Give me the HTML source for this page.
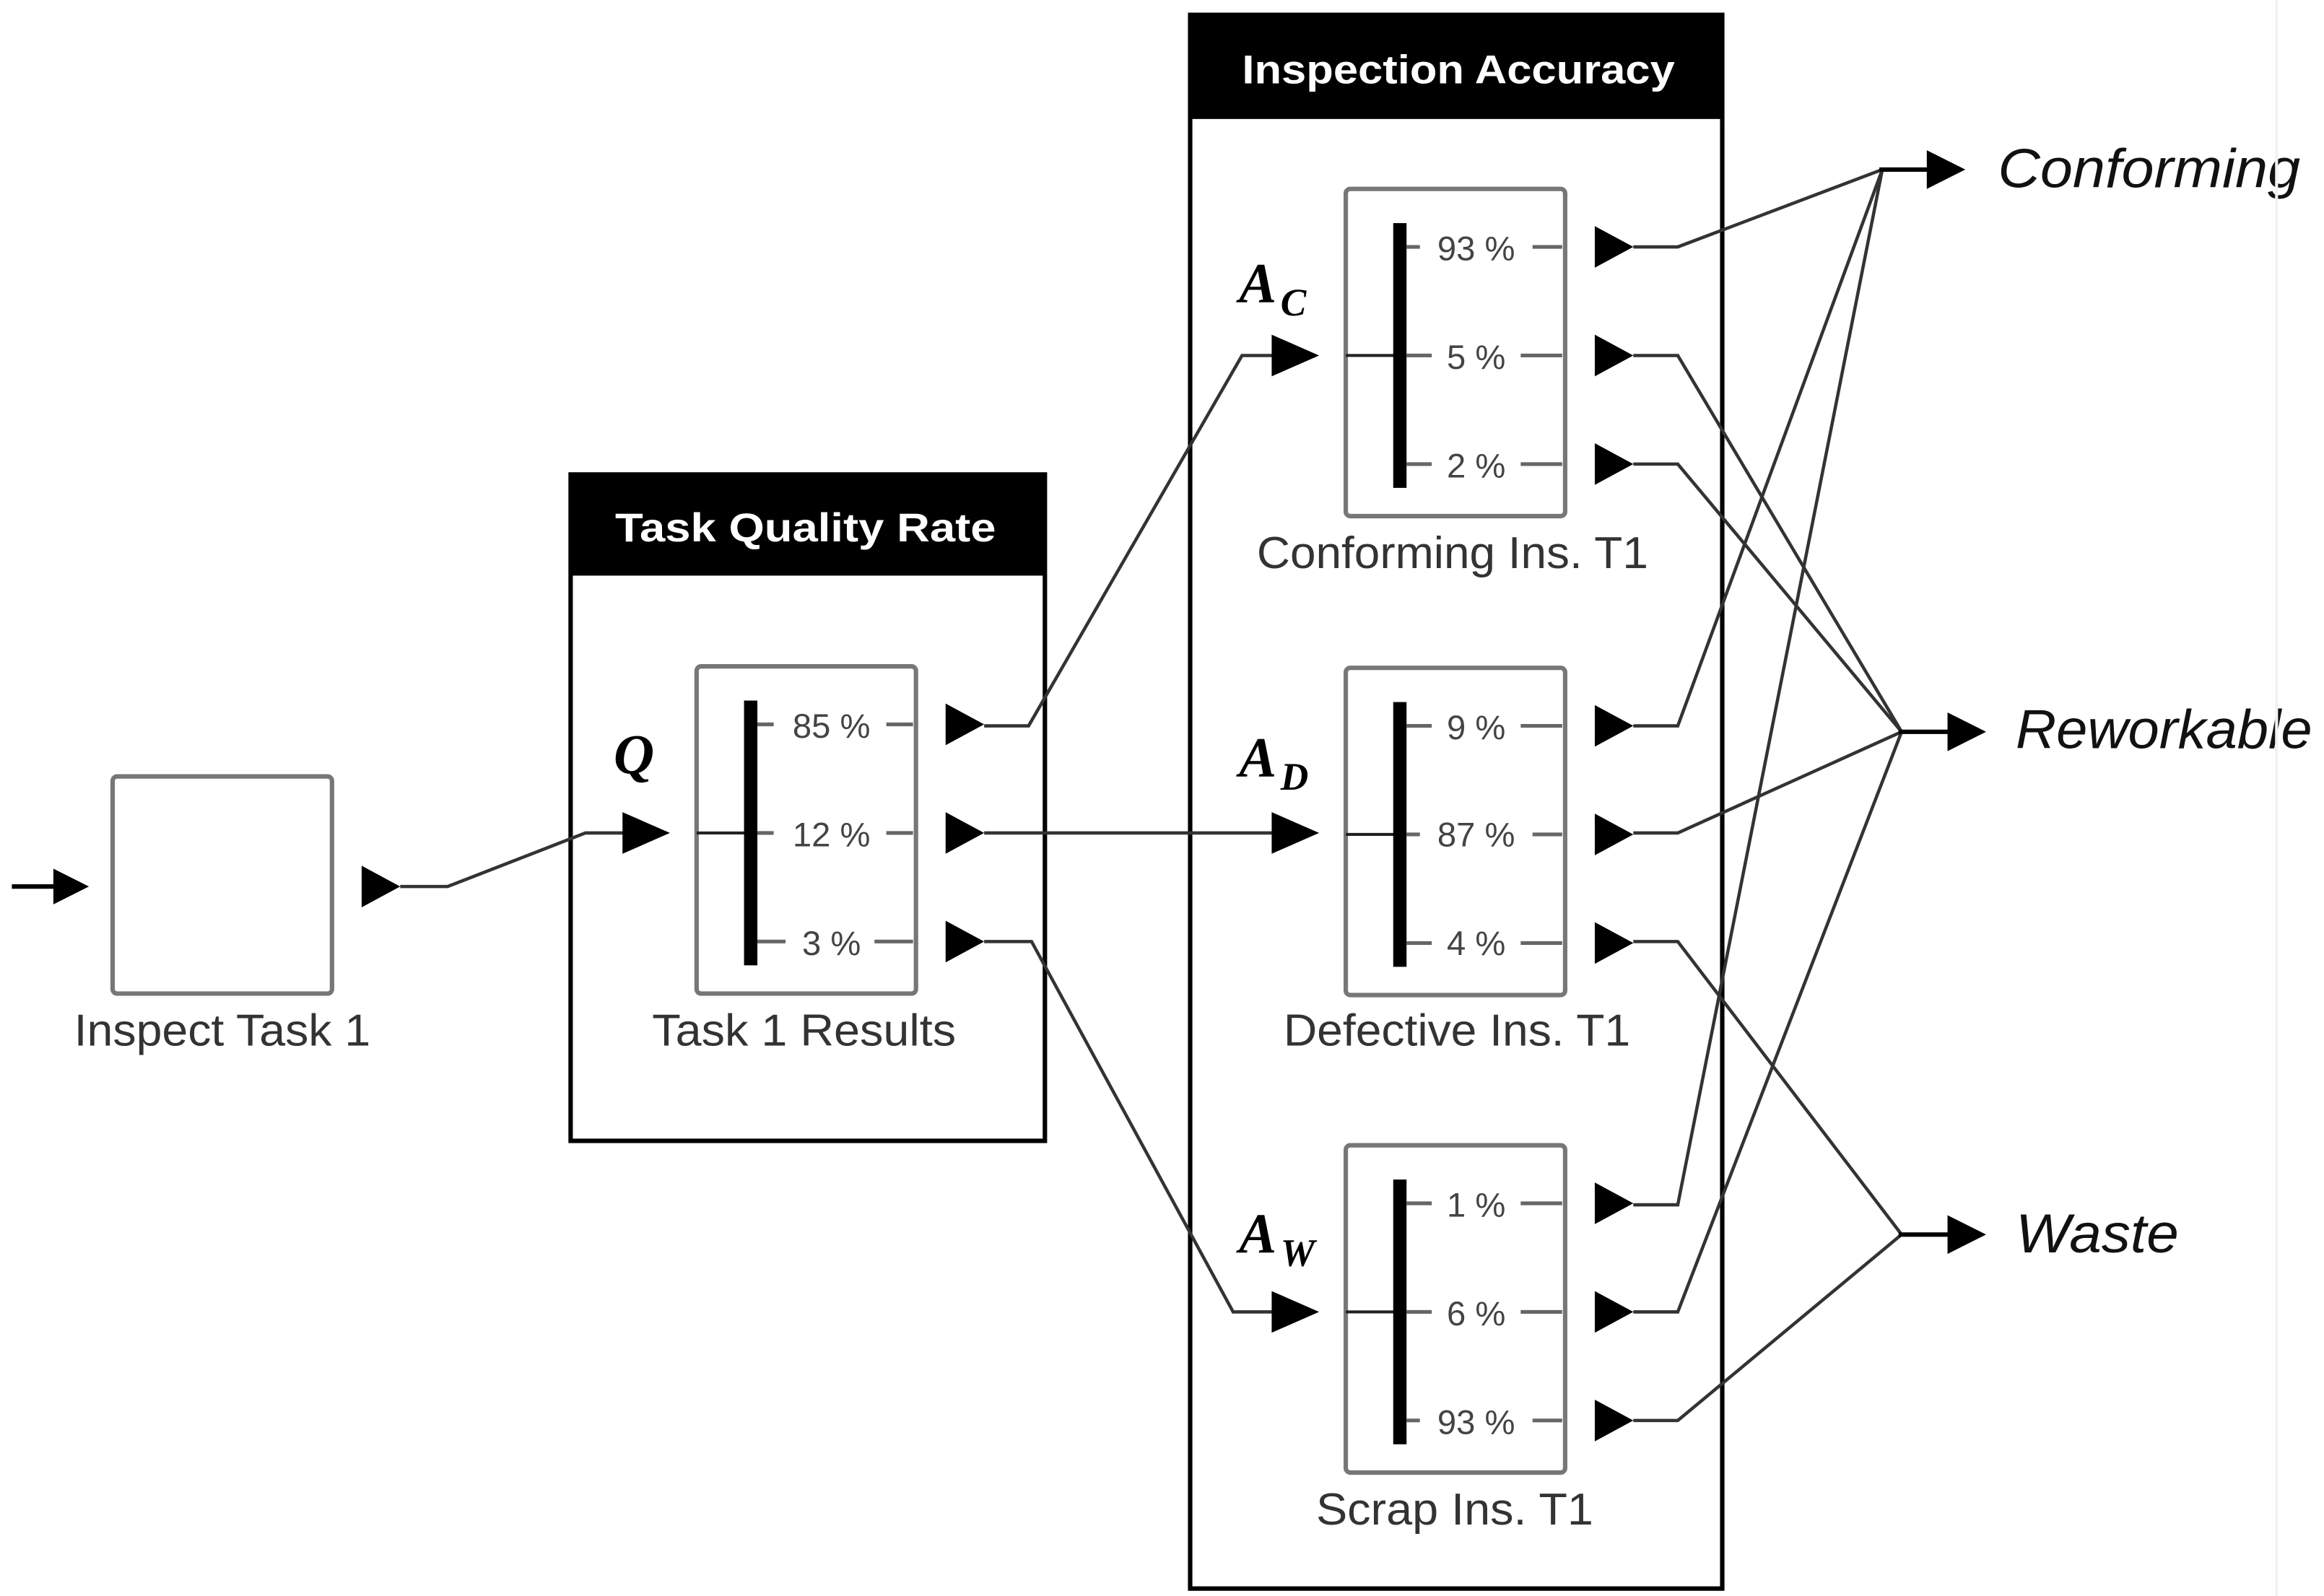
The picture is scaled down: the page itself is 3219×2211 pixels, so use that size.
<!DOCTYPE html>
<html><head><meta charset="utf-8"><style>
html,body{margin:0;padding:0;background:#fff;}
svg{display:block;}
.lbl{font-family:"Liberation Sans",sans-serif;font-size:30px;fill:#333;}
.pct{font-family:"Liberation Sans",sans-serif;font-size:23px;fill:#444;}
.hd{font-family:"Liberation Sans",sans-serif;font-size:27px;font-weight:bold;fill:#fff;}
.out{font-family:"Liberation Sans",sans-serif;font-size:37px;font-style:italic;fill:#111;}
.var{font-family:"Liberation Serif",serif;font-size:38px;font-style:italic;font-weight:bold;fill:#000;}
.sub{font-family:"Liberation Serif",serif;font-size:26px;font-style:italic;font-weight:bold;fill:#000;}
</style></head><body>
<svg width="3219" height="2211" viewBox="0 0 1568 1073" preserveAspectRatio="none" xmlns="http://www.w3.org/2000/svg">
<defs>
<g id="blk">
  <rect x="0" y="0" width="148" height="220" rx="3" fill="#fff" stroke="#777" stroke-width="3"/>
  <line x1="0" y1="112" x2="36" y2="112" stroke="#222" stroke-width="2"/>
  <rect x="32" y="23" width="9" height="178" fill="#000"/>
  <line x1="41" y1="39" x2="146" y2="39" stroke="#666" stroke-width="2.5"/>
  <line x1="41" y1="112" x2="146" y2="112" stroke="#666" stroke-width="2.5"/>
  <line x1="41" y1="185" x2="146" y2="185" stroke="#666" stroke-width="2.5"/>
  <path d="M168 25 L194 39 L168 53 Z M168 98 L194 112 L168 126 Z M168 171 L194 185 L168 199 Z" fill="#000"/>
</g>
</defs>
<rect x="385" y="319" width="320" height="448" fill="none" stroke="#000" stroke-width="3"/>
<rect x="385" y="319" width="320" height="68" fill="#000"/>
<text class="hd" x="415" y="364" textLength="257" lengthAdjust="spacingAndGlyphs">Task Quality Rate</text>
<rect x="803" y="10" width="359" height="1058" fill="none" stroke="#000" stroke-width="3"/>
<rect x="803" y="10" width="359" height="70" fill="#000"/>
<text class="hd" x="838" y="56" textLength="292" lengthAdjust="spacingAndGlyphs">Inspection Accuracy</text>

<line x1="8" y1="596" x2="40" y2="596" stroke="#000" stroke-width="3"/>
<path d="M36 584 L60 596 L36 608 Z" fill="#000"/>
<rect x="76" y="522" width="148" height="146" rx="3" fill="#fff" stroke="#777" stroke-width="3"/>
<path d="M244 582 L270 596 L244 610 Z" fill="#000"/>
<text class="lbl" x="50" y="703" textLength="200" lengthAdjust="spacingAndGlyphs">Inspect Task 1</text>
<polyline points="270,596 302,596 395,560 430,560" fill="none" stroke="#333" stroke-width="2.2"/>
<path d="M420 546 L452 560 L420 574 Z" fill="#000"/>

<use href="#blk" x="470" y="448"/>
<use href="#blk" x="908" y="127"/>
<use href="#blk" x="908" y="449"/>
<use href="#blk" x="908" y="770"/>

<g class="pct" text-anchor="middle">
<rect x="522" y="476" width="76" height="24" fill="#fff"/><text x="561" y="496">85 %</text>
<rect x="522" y="548" width="76" height="24" fill="#fff"/><text x="561" y="569">12 %</text>
<rect x="530" y="621" width="60" height="24" fill="#fff"/><text x="561" y="642">3 %</text>
<rect x="958" y="154" width="76" height="24" fill="#fff"/><text x="996" y="175">93 %</text>
<rect x="966" y="227" width="60" height="24" fill="#fff"/><text x="996" y="248">5 %</text>
<rect x="966" y="300" width="60" height="24" fill="#fff"/><text x="996" y="321">2 %</text>
<rect x="966" y="476" width="60" height="24" fill="#fff"/><text x="996" y="497">9 %</text>
<rect x="958" y="548" width="76" height="24" fill="#fff"/><text x="996" y="569">87 %</text>
<rect x="966" y="621" width="60" height="24" fill="#fff"/><text x="996" y="642">4 %</text>
<rect x="966" y="797" width="60" height="24" fill="#fff"/><text x="996" y="818">1 %</text>
<rect x="966" y="870" width="60" height="24" fill="#fff"/><text x="996" y="891">6 %</text>
<rect x="958" y="943" width="76" height="24" fill="#fff"/><text x="996" y="964">93 %</text>
</g>

<text class="lbl" x="440" y="703" textLength="205" lengthAdjust="spacingAndGlyphs">Task 1 Results</text>
<text class="lbl" x="848" y="382" textLength="264" lengthAdjust="spacingAndGlyphs">Conforming Ins. T1</text>
<text class="lbl" x="866" y="703" textLength="234" lengthAdjust="spacingAndGlyphs">Defective Ins. T1</text>
<text class="lbl" x="888" y="1025" textLength="187" lengthAdjust="spacingAndGlyphs">Scrap Ins. T1</text>

<text class="var" x="414" y="520">Q</text>
<text class="var" x="836" y="203">A</text><text class="sub" x="864" y="212">C</text>
<text class="var" x="836" y="522">A</text><text class="sub" x="864" y="531">D</text>
<text class="var" x="836" y="842">A</text><text class="sub" x="864" y="851">W</text>

<g fill="none" stroke="#333" stroke-width="2.2">
<polyline points="664,488 694,488 838,239 865,239"/>
<polyline points="664,560 865,560"/>
<polyline points="664,633 696,633 832,882 865,882"/>
</g>
<path d="M858 225 L890 239 L858 253 Z M858 546 L890 560 L858 574 Z M858 868 L890 882 L858 896 Z" fill="#000"/>

<g fill="none" stroke="#333" stroke-width="2.2">
<polyline points="1102,166 1132,166 1270,114"/>
<polyline points="1102,239 1132,239 1283,492"/>
<polyline points="1102,312 1132,312 1283,492"/>
<polyline points="1102,488 1132,488 1270,114"/>
<polyline points="1102,560 1132,560 1283,492"/>
<polyline points="1102,633 1132,633 1283,830"/>
<polyline points="1102,810 1132,810 1270,114"/>
<polyline points="1102,882 1132,882 1283,492"/>
<polyline points="1102,955 1132,955 1283,830"/>
</g>
<g stroke="#000" stroke-width="3">
<line x1="1268" y1="114" x2="1305" y2="114"/>
<line x1="1281" y1="492" x2="1318" y2="492"/>
<line x1="1281" y1="830" x2="1318" y2="830"/>
</g>
<path d="M1300 101 L1326 114 L1300 127 Z M1314 479 L1340 492 L1314 505 Z M1314 817 L1340 830 L1314 843 Z" fill="#000"/>
<text class="out" x="1348" y="126" textLength="204" lengthAdjust="spacingAndGlyphs">Conforming</text>
<text class="out" x="1360" y="503" textLength="200" lengthAdjust="spacingAndGlyphs">Reworkable</text>
<text class="out" x="1360" y="842" textLength="110" lengthAdjust="spacingAndGlyphs">Waste</text>
<line x1="1536" y1="0" x2="1536" y2="1073" stroke="#f2f2f2" stroke-width="2"/>
</svg>
</body></html>
